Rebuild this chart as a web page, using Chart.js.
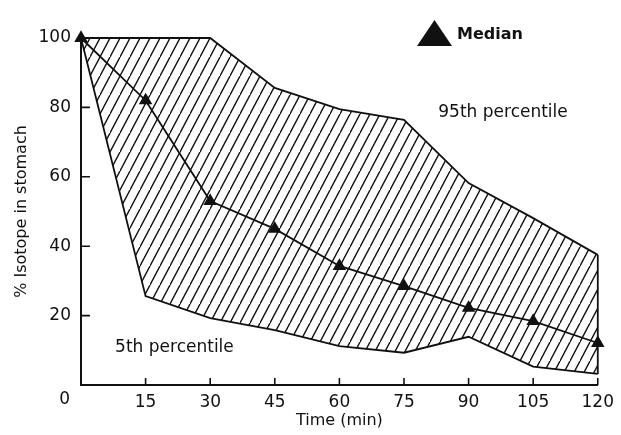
<!DOCTYPE html>
<html>
<head>
<meta charset="utf-8">
<script src="https://cdn.jsdelivr.net/npm/chart.js@4/dist/chart.umd.min.js"></script>
<style>
  body { margin: 0; background: #fff; }
  canvas { display: block; }
</style>
</head>
<body>
<canvas id="emptyingChart" width="621" height="435"></canvas>
<script>
const times = [0, 15, 30, 45, 60, 75, 90, 105, 120];
const median = [100, 82, 53, 45, 34.3, 28.5, 22.2, 18.4, 12.1];
const pct95 = [100, 100, 100, 85.6, 79.5, 76.4, 58.2, 48.1, 37.5];
const pct5 = [100, 25.6, 19.3, 15.8, 11.2, 9.3, 13.9, 5.3, 3.2];
const xTicks = [15, 30, 45, 60, 75, 90, 105, 120];
const yTicks = [20, 40, 60, 80, 100];

const ink = '#111';
const font = 'DejaVu Sans';

// diagonal hatch for the band between percentiles
function makeHatch() {
  const w = 10, h = 19;
  const c = document.createElement('canvas');
  c.width = w; c.height = h;
  const g = c.getContext('2d');
  g.strokeStyle = ink;
  g.lineWidth = 1.4;
  g.beginPath();
  g.moveTo(0, h); g.lineTo(w, 0);
  g.moveTo(-w, h); g.lineTo(0, 0);
  g.moveTo(w, 2 * h); g.lineTo(2 * w, h);
  g.stroke();
  return g.createPattern(c, 'repeat');
}

const pts = arr => times.map((t, i) => ({ x: t, y: arr[i] }));
const last = times.length - 1;

const extras = {
  id: 'extras',
  afterDatasetsDraw(chart) {
    const { ctx, chartArea: a, scales: { x, y } } = chart;
    ctx.save();
    ctx.strokeStyle = ink;
    ctx.lineWidth = 1.6;
    // inward tick marks
    ctx.beginPath();
    xTicks.forEach(v => {
      const px = x.getPixelForValue(v);
      ctx.moveTo(px, a.bottom); ctx.lineTo(px, a.bottom - 7);
    });
    yTicks.forEach(v => {
      const py = y.getPixelForValue(v);
      ctx.moveTo(a.left, py); ctx.lineTo(a.left + 9, py);
    });
    ctx.stroke();

    ctx.fillStyle = ink;
    // shared origin label
    ctx.font = `17px "${font}"`;
    ctx.textAlign = 'right';
    ctx.textBaseline = 'middle';
    ctx.fillText('0', a.left - 11, a.bottom + 15);

    // band labels
    ctx.textAlign = 'center';
    ctx.fillText('95th percentile', x.getPixelForValue(98), y.getPixelForValue(78.4));
    ctx.fillText('5th percentile', x.getPixelForValue(21.7), y.getPixelForValue(10.7));

    // median key
    const kx = a.left + 336, ky = a.top;
    ctx.beginPath();
    ctx.moveTo(kx, ky + 8);
    ctx.lineTo(kx + 17.5, ky - 18);
    ctx.lineTo(kx + 35, ky + 8);
    ctx.closePath();
    ctx.fill();
    ctx.font = `bold 16px "${font}"`;
    ctx.textAlign = 'left';
    ctx.fillText('Median', kx + 40, ky - 3);
    ctx.restore();
  }
};

new Chart(document.getElementById('emptyingChart'), {
  type: 'line',
  data: {
    datasets: [
      {
        label: 'Median',
        data: pts(median),
        borderColor: ink,
        borderWidth: 1.8,
        pointStyle: 'triangle',
        pointRadius: 6,
        pointBackgroundColor: ink,
        pointBorderColor: ink,
        fill: false,
        clip: false
      },
      {
        label: '95th percentile',
        data: pts(pct95),
        borderColor: ink,
        borderWidth: 1.8,
        pointRadius: 0,
        backgroundColor: makeHatch(),
        fill: '+1',
        clip: false
      },
      {
        label: '5th percentile',
        data: pts(pct5),
        borderColor: ink,
        borderWidth: 1.8,
        pointRadius: 0,
        fill: false,
        clip: false
      },
      {
        label: 'edge',
        data: [{ x: times[last], y: pct95[last] }, { x: times[last], y: pct5[last] }],
        borderColor: ink,
        borderWidth: 1.8,
        pointRadius: 0,
        fill: false,
        clip: false
      }
    ]
  },
  options: {
    responsive: false,
    animation: false,
    devicePixelRatio: 1,
    layout: { padding: { top: 38, right: 22, left: 0, bottom: 0 } },
    elements: { line: { tension: 0 } },
    plugins: { legend: { display: false }, tooltip: { enabled: false } },
    scales: {
      x: {
        type: 'linear',
        min: 0,
        max: 120,
        afterBuildTicks: s => { s.ticks = xTicks.map(v => ({ value: v })); },
        afterFit: s => { s.height = 50; },
        grid: { display: false, drawTicks: false },
        border: { display: true, color: ink, width: 2 },
        ticks: { color: ink, padding: 7, maxRotation: 0, font: { family: font, size: 17 } },
        title: {
          display: true, text: 'Time (min)', color: ink,
          font: { family: font, size: 16 }, padding: { top: 0, bottom: 5 }
        }
      },
      y: {
        min: 0,
        max: 100,
        afterBuildTicks: s => { s.ticks = yTicks.map(v => ({ value: v })); },
        afterFit: s => { s.width = 81; },
        grid: { display: false, drawTicks: false },
        border: { display: true, color: ink, width: 2 },
        ticks: { color: ink, padding: 10, font: { family: font, size: 17 } },
        title: {
          display: true, text: '% Isotope in stomach', color: ink,
          font: { family: font, size: 16 }, padding: { top: 12, bottom: 0 }
        }
      }
    }
  },
  plugins: [extras]
});
</script>
</body>
</html>
